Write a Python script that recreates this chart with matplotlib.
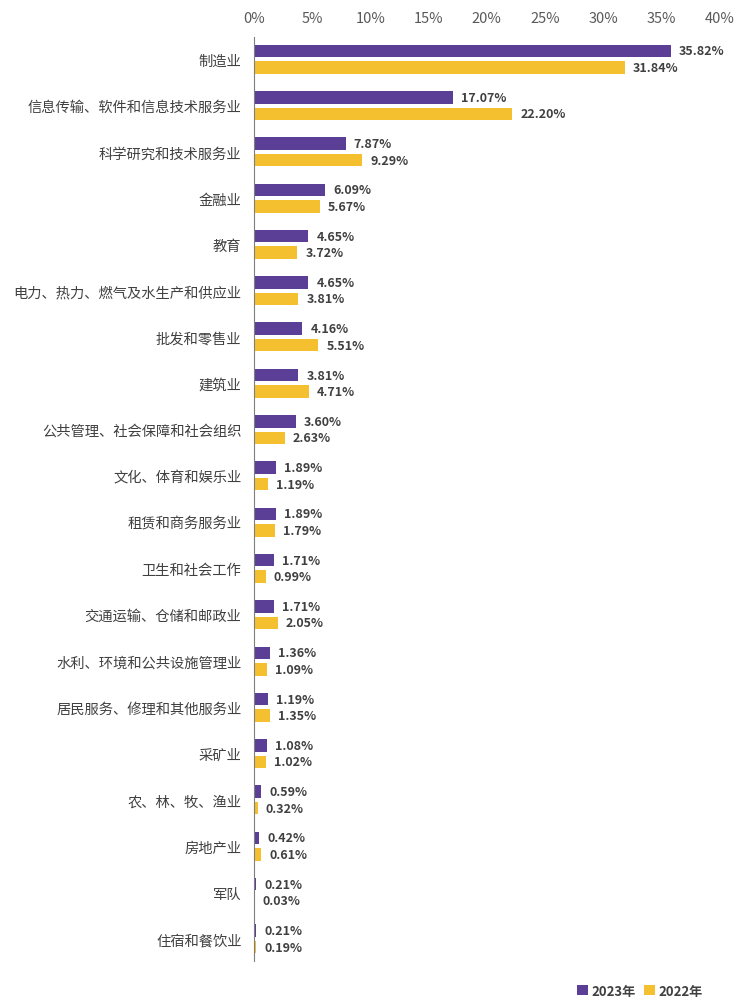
import matplotlib.pyplot as plt
import numpy as np

plt.rcParams['font.family'] = ['Noto Sans CJK SC', 'DejaVu Sans']

categories = ['制造业', '信息传输、软件和信息技术服务业', '科学研究和技术服务业', '金融业', '教育',
              '电力、热力、燃气及水生产和供应业', '批发和零售业', '建筑业', '公共管理、社会保障和社会组织',
              '文化、体育和娱乐业', '租赁和商务服务业', '卫生和社会工作', '交通运输、仓储和邮政业',
              '水利、环境和公共设施管理业', '居民服务、修理和其他服务业', '采矿业', '农、林、牧、渔业',
              '房地产业', '军队', '住宿和餐饮业']
v2023 = [35.82, 17.07, 7.87, 6.09, 4.65, 4.65, 4.16, 3.81, 3.60, 1.89, 1.89, 1.71, 1.71,
         1.36, 1.19, 1.08, 0.59, 0.42, 0.21, 0.21]
v2022 = [31.84, 22.20, 9.29, 5.67, 3.72, 3.81, 5.51, 4.71, 2.63, 1.19, 1.79, 0.99, 2.05,
         1.09, 1.35, 1.02, 0.32, 0.61, 0.03, 0.19]
xticks = [0, 5, 10, 15, 20, 25, 30, 35, 40]

purple = '#5B3F97'
yellow = '#F4C030'

fig = plt.figure(figsize=(7.43, 10.04), dpi=100)
ax = fig.add_axes([254/743, 1 - 962/1004, (719.6 - 254)/743, (962 - 38)/1004])

y = np.arange(len(categories))
h = 0.27
off = 0.178
ax.barh(y - off, v2023, height=h, color=purple, label='2023年')
ax.barh(y + off, v2022, height=h, color=yellow, label='2022年')

for yi, a, b in zip(y, v2023, v2022):
    ax.text(a + 0.7, yi - off, f'{a:.2f}%', va='center', ha='left', fontsize=9,
            fontweight='bold', color='#404040')
    ax.text(b + 0.7, yi + off, f'{b:.2f}%', va='center', ha='left', fontsize=9,
            fontweight='bold', color='#404040')

ax.set_xlim(0, 40)
ax.set_ylim(len(categories) - 0.52, -0.48)
ax.xaxis.tick_top()
ax.set_xticks(xticks)
ax.set_xticklabels([f'{t}%' for t in xticks], fontsize=10.5, color='#595959')
ax.tick_params(axis='x', length=0, pad=9)
ax.set_yticks(y)
ax.set_yticklabels(categories, fontsize=10.3, color='#404040')
ax.tick_params(axis='y', length=0, pad=9)

for s in ['top', 'right', 'bottom']:
    ax.spines[s].set_visible(False)
ax.spines['left'].set_color('#7f7f7f')
ax.spines['left'].set_linewidth(0.8)

leg = fig.legend(loc='center right', bbox_to_anchor=(0.962, 1 - 992/1004), ncol=2, frameon=False,
                 fontsize=9.5, handlelength=0.8, handleheight=0.8, handletextpad=0.3,
                 columnspacing=0.6)
for t in leg.get_texts():
    t.set_color('#404040')
    t.set_fontweight('bold')

fig.savefig('out.png', dpi=100)
